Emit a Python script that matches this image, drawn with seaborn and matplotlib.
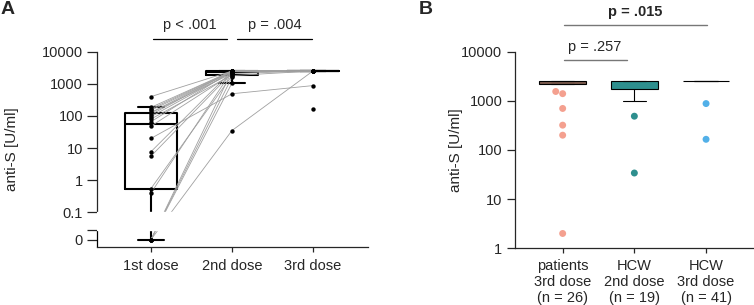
import numpy as np
import pandas as pd
import matplotlib
matplotlib.use('Agg')
import matplotlib.pyplot as plt
import matplotlib.transforms as mtransforms
from matplotlib.cbook import boxplot_stats
from matplotlib.ticker import NullLocator
import seaborn as sns

# ---- panel A : anti-S [U/ml] per subject (nan = not measured) ----
doses_a = ['1st dose', '2nd dose', '3rd dose']
dose1 = [0, 0, 0, 0, 0.4, 0.55, 5.6, 7.7, 20, 48, 66, 80, 95, 110, 125, 128, 150, 165, 185, 400, np.nan]
dose2 = [35, 1050, 2500, 1600, 2500, 1800, 2200, 2500, 490, 2000, 2500, 1880, 2300, 2500, 2100, 2500,
         2400, 2500, 2500, 2500, np.nan]
dose3 = [2500, np.nan, 2500, np.nan, 2500, 2500, np.nan, 2500, 880, np.nan, 2500, np.nan, np.nan, 2500,
         2500, 2500, np.nan, 2500, 2500, 2500, 160]
ticks_a = [10000, 1000, 100, 10, 1, 0.1, 0]
tick_labels_a = ['10000', '1000', '100', '10', '1', '0.1', '0']
p_a = ['p < .001', 'p = .004']

# ---- panel B ----
groups_b = ['patients\n3rd dose\n(n = 26)', 'HCW\n2nd dose\n(n = 19)', 'HCW\n3rd dose\n(n = 41)']
patients_3rd = [2, 200, 320, 700, 1400, 1550, 2170, 2170, 2250, 2300, 2350, 2400, 2450] + [2500] * 13
hcw_2nd = [34, 487, 1010, 1500, 1700, 1740, 1900, 2000, 2100, 2200, 2300, 2400, 2450] + [2500] * 6
hcw_3rd = [165, 880] + [2500] * 39
box_colors = ['#7b5a4e', '#2e8f8e', '#52b0e8']
pt_colors = ['#f4a08f', '#2e8f8e', '#52b0e8']
p_b = ['p = .015', 'p = .257']

sns.set_style('ticks')
plt.rcParams['font.family'] = ['Liberation Sans', 'DejaVu Sans']
plt.rcParams['font.size'] = 10
plt.rcParams['axes.linewidth'] = 0.9
plt.rcParams['xtick.major.width'] = 0.9
plt.rcParams['ytick.major.width'] = 0.9

# broken axis: log10 of the value, zero drawn below the gap
ZERO_POS = -1.85
GAP = (-1.54, -1.0)


def pos(v):
    v = np.asarray(v, dtype=float)
    return np.where(v > 0, np.log10(np.where(v > 0, v, 1)), ZERO_POS)


fig = plt.figure(figsize=(7.54, 3.05), dpi=100)

# ================= A =================
ax = fig.add_axes([0.1286, 0.1892, 0.3594, 0.6413])

rows = []
for i, (d, vals) in enumerate(zip(doses_a, (dose1, dose2, dose3))):
    for s, v in enumerate(vals):
        if not np.isnan(v):
            rows.append({'subject': s, 'dose': d, 'x': i, 'value': v, 'y': float(pos(v))})
df_a = pd.DataFrame(rows)

stats = []
for vals in (dose1, dose2, dose3):
    v = np.array(vals)
    v = v[~np.isnan(v)]
    st = boxplot_stats(v, whis=1.5)[0]
    for k in ('med', 'q1', 'q3', 'whislo', 'whishi', 'mean'):
        st[k] = float(pos(st[k]))
    st['fliers'] = []
    stats.append(st)
lp = dict(color='black', lw=1.5)
ax.bxp(stats, positions=[0, 1, 2], widths=0.65, capwidths=0.33, showfliers=False,
       boxprops=lp, whiskerprops=lp, capprops=lp, medianprops=lp)

sns.lineplot(data=df_a, x='x', y='y', units='subject', estimator=None, sort=False,
             color='#a0a0a0', lw=0.6, ax=ax, zorder=3)
sns.scatterplot(data=df_a, x='x', y='y', color='black', s=10, linewidth=0, ax=ax, zorder=5)

ax.axhspan(GAP[0], GAP[1], color='white', zorder=4)

ax.set_xlim(-0.667, 2.68)
ax.set_ylim(-2.09, 4)
ax.set_xticks([0, 1, 2], doses_a)
ax.set_yticks(list(pos(ticks_a)) + [GAP[0]], tick_labels_a + [''])
ax.tick_params(axis='y', length=7, pad=3, labelsize=10.5)
ax.tick_params(axis='x', length=3.5, pad=5, labelsize=10.5)
ax.spines['left'].set_bounds(GAP[1], 4)
trans = mtransforms.blended_transform_factory(ax.transAxes, ax.transData)
ax.plot([0, 0], [-2.09, GAP[0]], color='black', lw=0.9, transform=trans, clip_on=False)
sns.despine(ax=ax)
ax.set_xlabel('')
ax.set_ylabel('anti-S [U/ml]', fontsize=11)
ax.yaxis.set_label_coords(-0.288, 0.5)

ta = mtransforms.blended_transform_factory(ax.transData, ax.transAxes)
for (x0, x1), lab in zip([(0.025, 0.94), (1.06, 1.99)], p_a):
    ax.plot([x0, x1], [1.065, 1.065], color='black', lw=0.9, transform=ta, clip_on=False)
    ax.text((x0 + x1) / 2, 1.135, lab, transform=ta, ha='center', va='center', fontsize=10.5)

# ================= B =================
axb = fig.add_axes([0.683, 0.186, 0.3156, 0.6445])
df_b = pd.DataFrame({
    'group': [groups_b[0]] * len(patients_3rd) + [groups_b[1]] * len(hcw_2nd) + [groups_b[2]] * len(hcw_3rd),
    'value': patients_3rd + hcw_2nd + hcw_3rd,
})
sns.boxplot(data=df_b, x='group', y='value', hue='group', order=groups_b, hue_order=groups_b,
            palette=box_colors, saturation=1, width=0.65, whis=1.5, showfliers=False,
            linecolor='black', linewidth=0.8, medianprops={'linewidth': 0},
            log_scale=True, legend=False, ax=axb)

# outlier points only, as in the original
fl_rows = []
for g, vals in zip(groups_b, (patients_3rd, hcw_2nd, hcw_3rd)):
    st = boxplot_stats(np.log10(vals), whis=1.5)[0]
    for f in st['fliers']:
        fl_rows.append({'group': g, 'value': 10 ** f})
df_fl = pd.DataFrame(fl_rows)
sns.swarmplot(data=df_fl, x='group', y='value', hue='group', order=groups_b, hue_order=groups_b,
              palette=pt_colors, size=5, log_scale=True, legend=False, ax=axb, zorder=5)

axb.set_ylim(1, 10000)
axb.set_xlim(-0.665, 2.654)
axb.set_yticks([1, 10, 100, 1000, 10000], ['1', '10', '100', '1000', '10000'])
axb.yaxis.set_minor_locator(NullLocator())
axb.tick_params(axis='y', length=6, pad=3, labelsize=10.5)
axb.tick_params(axis='x', length=3.5, pad=4, labelsize=10.5)
sns.despine(ax=axb)
axb.set_xlabel('')
axb.set_ylabel('anti-S [U/ml]', fontsize=11)
axb.yaxis.set_label_coords(-0.22, 0.5)

tb = mtransforms.blended_transform_factory(axb.transData, axb.transAxes)
axb.plot([0.02, 2.01], [1.136, 1.136], color='#777777', lw=1.0, transform=tb, clip_on=False)
axb.text(1.01, 1.2, p_b[0], transform=tb, ha='center', va='center', fontsize=10.5, fontweight='bold')
axb.plot([0.02, 0.9], [0.956, 0.956], color='#777777', lw=1.0, transform=tb, clip_on=False)
axb.text(0.45, 1.025, p_b[1], transform=tb, ha='center', va='center', fontsize=10.5)

fig.text(0.01, 0.97, 'A', fontsize=14, fontweight='bold', ha='center', va='center')
fig.text(0.564, 0.97, 'B', fontsize=14, fontweight='bold', ha='center', va='center')

fig.savefig('out.png', dpi=100)
